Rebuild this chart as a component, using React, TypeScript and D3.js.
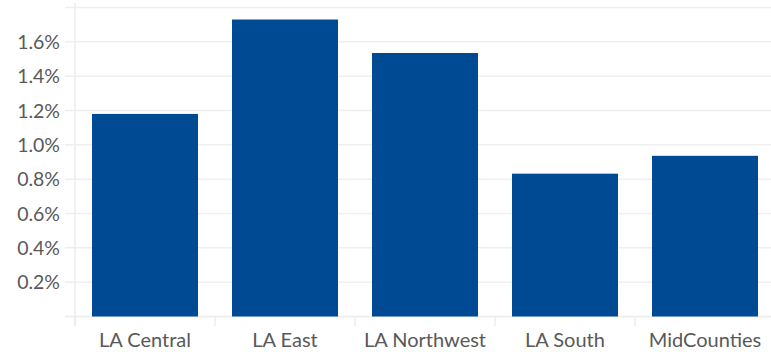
import React from "react";
import * as d3 from "d3";

const categories = ["LA Central", "LA East", "LA Northwest", "LA South", "MidCounties"];
const values = [1.18, 1.73, 1.535, 0.832, 0.936];
const yTicks = [0.2, 0.4, 0.6, 0.8, 1.0, 1.2, 1.4, 1.6];
const yGrid = [0.2, 0.4, 0.6, 0.8, 1.0, 1.2, 1.4, 1.6, 1.8];

const W = 771;
const H = 352;
const FONT = "Lato, 'Open Sans', sans-serif";

export default function App() {
  const x = d3.scaleBand<string>().domain(categories).range([75, 775]).paddingInner(0.243).paddingOuter(0.1215);
  const y = d3.scaleLinear().domain([0, 1.8]).range([316.5, 7.5]);
  const base = y(0);
  const step = x.step();
  const bounds = d3.range(categories.length + 1).map((i) => 75 + i * step);
  return (
    <svg width={W} height={H} style={{ position: "absolute", left: 0, top: 0, background: "#fff" }}>
      {yGrid.map((t) => (
        <line key={t} x1={65} x2={W} y1={y(t)} y2={y(t)} stroke="#efefef" strokeWidth={1.5} />
      ))}
      <line x1={65} x2={W} y1={base} y2={base} stroke="#ececec" strokeWidth={1.5} />
      <line x1={75} x2={75} y1={3} y2={326} stroke="#ececec" strokeWidth={1.5} />
      {bounds.map((b, i) => (
        <line key={i} x1={b} x2={b} y1={base} y2={326} stroke="#ececec" strokeWidth={1.5} />
      ))}
      {categories.map((c, i) => (
        <rect key={c} x={x(c)} y={y(values[i])} width={x.bandwidth()} height={base - y(values[i])} fill="#004993" />
      ))}
      {yTicks.map((t) => (
        <text key={t} x={60} y={y(t)} dy="0.36em" textAnchor="end" fontFamily={FONT} fontSize={19.5} fill="#595959">
          {t.toFixed(1)}%
        </text>
      ))}
      {categories.map((c) => (
        <text key={c} x={(x(c) as number) + x.bandwidth() / 2} y={346.5} textAnchor="middle" fontFamily={FONT} fontSize={20} fill="#595959">
          {c}
        </text>
      ))}
    </svg>
  );
}
